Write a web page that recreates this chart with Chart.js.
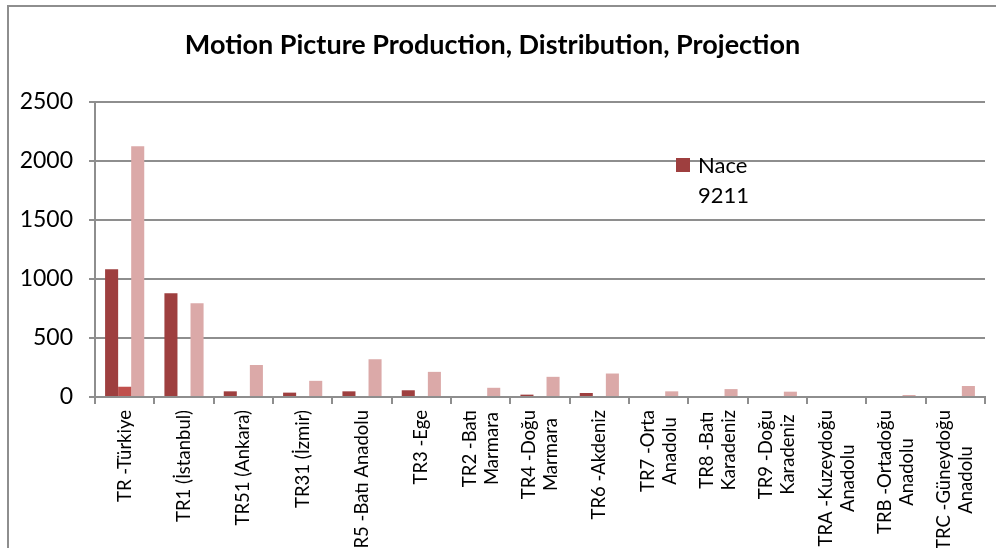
<!DOCTYPE html>
<html>
<head>
<meta charset="utf-8">
<script src="https://cdn.jsdelivr.net/npm/chart.js@4.4.1/dist/chart.umd.min.js"></script>
<style>
    html, body { margin: 0; padding: 0; background: #fff; }
    #wrap { width: 996px; height: 548px; }
</style>
</head>
<body>
<div id="wrap"><canvas id="chart" width="996" height="548"></canvas></div>
<script>
const categories = [
    'TR -Türkiye',
    'TR1 (İstanbul)',
    'TR51 (Ankara)',
    'TR31 (İzmir)',
    'TR5 -Batı Anadolu',
    'TR3 -Ege',
    ['TR2 -Batı', 'Marmara'],
    ['TR4 -Doğu', 'Marmara'],
    'TR6 -Akdeniz',
    ['TR7 -Orta', 'Anadolu'],
    ['TR8 -Batı', 'Karadeniz'],
    ['TR9 -Doğu', 'Karadeniz'],
    ['TRA -Kuzeydoğu', 'Anadolu'],
    ['TRB -Ortadoğu', 'Anadolu'],
    ['TRC -Güneydoğu', 'Anadolu']
];

const nace9211 = [1082, 879, 48, 37, 48, 57, 0, 20, 34, 0, 0, 0, 0, 0, 0];
const secondSeries = [87, null, null, null, null, null, null, null, null, null, null, null, null, null, null];
const thirdSeries = [2125, 794, 271, 137, 320, 213, 78, 171, 199, 48, 67, 45, 0, 17, 93];

const yTicks = [0, 500, 1000, 1500, 2000, 2500];

const GRID = '#8e8e8e';
const FONT = 'Lato, "Noto Sans", sans-serif';

// white page plus the thin frame on the top and left
const frame = {
    id: 'frame',
    beforeDraw(chart) {
        const ctx = chart.ctx;
        ctx.save();
        ctx.fillStyle = '#fff';
        ctx.fillRect(0, 0, chart.width, chart.height);
        ctx.strokeStyle = GRID;
        ctx.lineWidth = 2;
        ctx.beginPath();
        ctx.moveTo(8, chart.height);
        ctx.lineTo(8, 6);
        ctx.lineTo(chart.width, 6);
        ctx.stroke();
        ctx.restore();
    }
};

// rotated category names, lines centred on each other
const xLabels = {
    id: 'xLabels',
    afterDraw(chart) {
        const ctx = chart.ctx;
        const x = chart.scales.x;
        ctx.save();
        ctx.font = '18.5px ' + FONT;
        ctx.fillStyle = '#000';
        ctx.textAlign = 'center';
        ctx.textBaseline = 'middle';
        categories.forEach((label, i) => {
            const lines = [].concat(label);
            const w = Math.max(...lines.map(l => ctx.measureText(l).width));
            ctx.save();
            ctx.translate(x.getPixelForTick(i), x.top + 13 + w / 2);
            ctx.rotate(-Math.PI / 2);
            lines.forEach((l, j) => ctx.fillText(l, 0, (j - (lines.length - 1) / 2) * 22));
            ctx.restore();
        });
        ctx.restore();
    }
};

// single legend entry sitting inside the plot
const legendBox = {
    id: 'legendBox',
    afterDraw(chart) {
        const ctx = chart.ctx;
        const area = chart.chartArea;
        const ds = chart.data.datasets[0];
        const left = area.right - 309;
        const top = area.top + 56;
        ctx.save();
        ctx.fillStyle = ds.backgroundColor;
        ctx.fillRect(left, top, 14, 14);
        ctx.fillStyle = '#000';
        ctx.font = '22px ' + FONT;
        ctx.textBaseline = 'middle';
        ctx.textAlign = 'left';
        ds.label.split(' ').forEach((word, i) => ctx.fillText(word, left + 22, top + 8 + i * 30));
        ctx.restore();
    }
};

const ctx = document.getElementById('chart').getContext('2d');
new Chart(ctx, {
    type: 'bar',
    data: {
        labels: categories,
        datasets: [
            { label: 'Nace 9211', data: nace9211, backgroundColor: '#9e3f3f' },
            { label: '', data: secondSeries, backgroundColor: '#c0504d' },
            { label: '', data: thirdSeries, backgroundColor: '#dba9a8' }
        ]
    },
    options: {
        responsive: false,
        animation: false,
        devicePixelRatio: 1,
        categoryPercentage: 0.66,
        barPercentage: 1,
        layout: {
            padding: { top: 0, right: 11, left: 0, bottom: 0 }
        },
        plugins: {
            legend: { display: false },
            tooltip: { enabled: false },
            title: {
                display: true,
                text: 'Motion Picture Production, Distribution, Projection',
                color: '#000',
                font: { family: FONT, size: 27, weight: 'bold' },
                padding: { top: 29, bottom: 40.6 }
            }
        },
        scales: {
            x: {
                grid: {
                    drawOnChartArea: false,
                    color: GRID,
                    lineWidth: 2,
                    tickLength: 7
                },
                border: { color: GRID, width: 2 },
                ticks: { display: false, autoSkip: false },
                afterFit(scale) { scale.height = 151; }
            },
            y: {
                min: 0,
                max: 2500,
                afterBuildTicks(scale) { scale.ticks = yTicks.map(v => ({ value: v })); },
                grid: { color: GRID, lineWidth: 2, tickLength: 6 },
                border: { color: GRID, width: 2 },
                ticks: {
                    color: '#000',
                    padding: 16,
                    font: { family: FONT, size: 23 },
                    callback: value => String(value)
                },
                afterFit(scale) { scale.width = 95; }
            }
        }
    },
    plugins: [frame, xLabels, legendBox]
});
</script>
</body>
</html>
